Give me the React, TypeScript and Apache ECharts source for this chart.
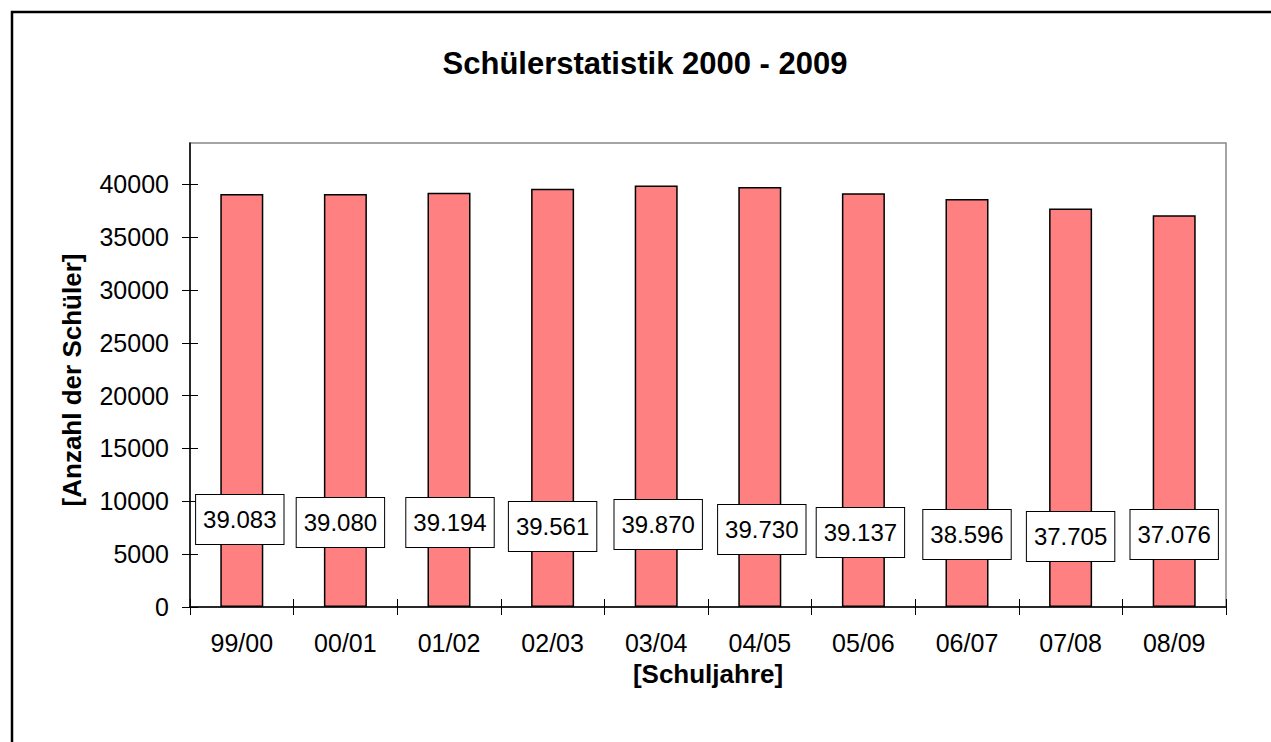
import React, { useEffect, useRef } from "react";
import * as echarts from "echarts";

const categories = ["99/00", "00/01", "01/02", "02/03", "03/04", "04/05", "05/06", "06/07", "07/08", "08/09"];
const values = [39083, 39080, 39194, 39561, 39870, 39730, 39137, 38596, 37705, 37076];
const yTicks = [0, 5000, 10000, 15000, 20000, 25000, 30000, 35000, 40000];
const yMax = 43900;
const titleText = "Schülerstatistik 2000 - 2009";
const yName = "[Anzahl der Schüler]";
const xName = "[Schuljahre]";

// label placement (style only)
const labelDistance = [63, 60, 60, 56, 58, 53, 50, 48, 46, 48];
const labelShiftX = [-2, -5, 1, 0, 2, 2, -3, 0, 0, 0];

const FONT = "'Liberation Sans', Arial, sans-serif";

function fmt(v: number): string {
  const th = Math.floor(v / 1000);
  const rest = String(v % 1000).padStart(3, "0");
  return th + "." + rest;
}

export default function App() {
  const ref = useRef<HTMLDivElement>(null);
  useEffect(() => {
    if (!ref.current) return;
    const chart = echarts.init(ref.current, undefined, { renderer: "svg" });
    const option: any = {
      animation: false,
      backgroundColor: "#ffffff",
      textStyle: { fontFamily: FONT, color: "#000" },
      title: {
        text: titleText,
        left: 645,
        top: 48,
        padding: 0,
        textAlign: "center",
        textStyle: { fontFamily: FONT, fontSize: 31, fontWeight: "bold", color: "#000" },
      },
      grid: {
        left: 190,
        right: 45,
        top: 143,
        bottom: 135,
        show: true,
        borderColor: "#888888",
        borderWidth: 1.5,
        backgroundColor: "#ffffff",
      },
      xAxis: [
        {
          type: "category",
          data: categories,
          position: "bottom",
          boundaryGap: true,
          name: xName,
          nameLocation: "middle",
          nameGap: 54,
          nameTextStyle: { fontFamily: FONT, fontSize: 26, fontWeight: "bold", color: "#000" },
          axisLine: { show: true, lineStyle: { color: "#000", width: 1.5 } },
          axisTick: { show: true, inside: false, length: 8, lineStyle: { color: "#000", width: 1 } },
          axisLabel: { fontFamily: FONT, fontSize: 25, color: "#000", margin: 23 },
          splitLine: { show: false },
        },
        {
          type: "category",
          data: categories,
          position: "bottom",
          boundaryGap: true,
          axisLine: { show: false },
          axisTick: { show: true, inside: true, length: 8, lineStyle: { color: "#000", width: 1 } },
          axisLabel: { show: false },
          splitLine: { show: false },
        },
      ],
      yAxis: [
        {
          type: "value",
          min: 0,
          max: yMax,
          position: "left",
          name: yName,
          nameLocation: "middle",
          nameGap: 105,
          nameTextStyle: { fontFamily: FONT, fontSize: 26, fontWeight: "bold", color: "#000", padding: [0, 10, 0, 0] },
          axisLine: { show: true, lineStyle: { color: "#000", width: 1.5 } },
          axisTick: { show: true, inside: false, length: 8, customValues: yTicks, lineStyle: { color: "#000", width: 1 } },
          axisLabel: {
            fontFamily: FONT,
            fontSize: 25,
            color: "#000",
            margin: 21,
            customValues: yTicks,
            formatter: (v: number) => String(v),
          },
          splitLine: { show: false },
        },
        {
          type: "value",
          min: 0,
          max: yMax,
          position: "left",
          axisLine: { show: false },
          axisTick: { show: true, inside: true, length: 8, customValues: yTicks, lineStyle: { color: "#000", width: 1 } },
          axisLabel: { show: false, customValues: yTicks },
          splitLine: { show: false },
        },
      ],
      series: [
        {
          type: "bar",
          xAxisIndex: 0,
          yAxisIndex: 0,
          barWidth: 43,
          itemStyle: { color: "#FF8080", borderColor: "#000", borderWidth: 1.5 },
          label: {
            show: true,
            position: "insideBottom",
            formatter: (p: any) => fmt(p.value),
            fontFamily: FONT,
            fontSize: 24,
            lineHeight: 25,
            color: "#000",
            backgroundColor: "#ffffff",
            borderColor: "#000",
            borderWidth: 1,
            padding: [12, 7, 12, 7],
          },
          data: values.map((v, i) => ({
            value: v,
            label: { distance: labelDistance[i], offset: [labelShiftX[i], 0] },
          })),
        },
      ],
      graphic: [
        {
          type: "rect",
          shape: { x: 12, y: 12, width: 1400, height: 900 },
          style: { fill: "none", stroke: "#000", lineWidth: 2.5 },
          silent: true,
          z: 100,
        },
      ],
    };
    chart.setOption(option);
    return () => chart.dispose();
  }, []);
  return (
    <div
      ref={ref}
      style={{ position: "absolute", left: 0, top: 0, width: 1271, height: 742 }}
    />
  );
}
